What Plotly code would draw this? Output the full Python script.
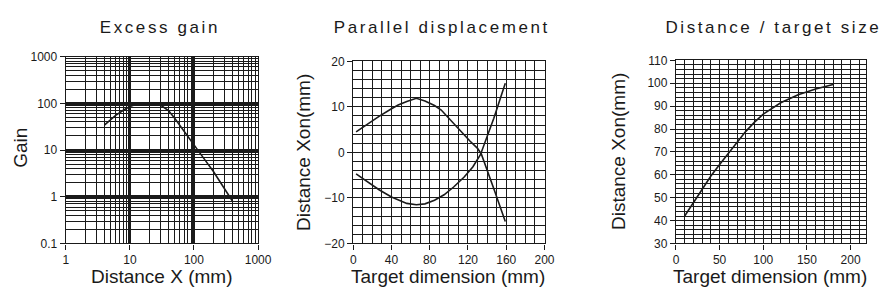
import plotly.graph_objects as go

# ---------------- data ----------------
# Excess gain (log-log)
gain_x = [4, 5, 6, 8, 10, 12, 15, 20, 25, 30, 40, 50, 70, 100, 150, 200, 300, 400]
gain_y = [34, 45, 55, 72, 85, 93, 97, 98, 97, 92, 70, 48, 25, 13, 6, 3.5, 1.5, 0.8]

# Parallel displacement
par_upper_x = [3, 15, 27, 40, 47, 56, 66, 75, 85, 92, 100, 112, 122, 130, 134, 147, 159]
par_upper_y = [4.5, 6.3, 7.9, 9.6, 10.4, 11.2, 11.9, 11.3, 10.3, 9.3, 7.5, 4.7, 2.5, 0.9, -0.4, -8, -15.2]
par_lower_x = [3, 15, 27, 40, 56, 66, 75, 85, 95, 105, 116, 125, 133, 147, 159]
par_lower_y = [-4.7, -6.5, -8.2, -9.8, -11.2, -11.5, -11.3, -10.5, -9.3, -7.6, -5.4, -3.2, -0.5, 7.5, 15.2]

# Distance / target size
dist_x = [10, 20, 30, 40, 50, 60, 70, 80, 90, 100, 120, 140, 160, 180]
dist_y = [42, 48, 54, 59.5, 64.5, 69.5, 74.5, 79, 83, 86.5, 91.5, 95, 97.5, 99.5]

titles = ["Excess gain", "Parallel displacement", "Distance / target size"]
gain_ticks = [1, 10, 100, 1000]
gain_yticks = [0.1, 1, 10, 100, 1000]
gain_yticktext = ["0.1", "1", "10", "100", "1000"]
par_xticks = [0, 40, 80, 120, 160, 200]
par_yticks = [-20, -10, 0, 10, 20]
dist_xticks = [0, 50, 100, 150, 200]
dist_yticks = [30, 40, 50, 60, 70, 80, 90, 100, 110]

# ---------------- figure ----------------
W, H = 895, 301
FONT = "Liberation Sans, Arial, sans-serif"
INK = "#1a1a1a"

def px_x(a, b):
    return [a / W, b / W]

def px_y(top, bottom):
    return [1 - bottom / H, 1 - top / H]

fig = go.Figure()
line = dict(color=INK, width=1.6)
fig.add_trace(go.Scatter(x=gain_x, y=gain_y, mode="lines", line=line, xaxis="x", yaxis="y"))
fig.add_trace(go.Scatter(x=par_upper_x, y=par_upper_y, mode="lines", line=line, xaxis="x2", yaxis="y2"))
fig.add_trace(go.Scatter(x=par_lower_x, y=par_lower_y, mode="lines", line=line, xaxis="x2", yaxis="y2"))
fig.add_trace(go.Scatter(x=dist_x, y=dist_y, mode="lines", line=line, xaxis="x3", yaxis="y3"))

tickfont = dict(family=FONT, size=12, color=INK)
common = dict(showline=True, linecolor=INK, linewidth=1.3, mirror=True,
              ticks="outside", ticklen=5, tickcolor=INK, tickwidth=1.2,
              tickfont=tickfont, zeroline=False, gridcolor=INK, fixedrange=True)

log_minor = [k * 10 ** d for d in range(-1, 3) for k in range(2, 10)]

fig.update_layout(
    width=W, height=H, margin=dict(l=0, r=0, t=0, b=0),
    paper_bgcolor="white", plot_bgcolor="white", showlegend=False,
    xaxis=dict(common, domain=px_x(64, 260), type="log", range=[0, 3],
               tickvals=gain_ticks, ticktext=[str(v) for v in gain_ticks],
               showgrid=True, gridwidth=2.6,
               minor=dict(tickvals=log_minor, showgrid=True, gridcolor=INK, gridwidth=1.1, ticks=""),
               anchor="y"),
    yaxis=dict(common, domain=px_y(52, 248), type="log", range=[-1, 3],
               tickvals=gain_yticks, ticktext=gain_yticktext,
               showgrid=True, gridwidth=2.6,
               minor=dict(tickvals=log_minor, showgrid=True, gridcolor=INK, gridwidth=1.1, ticks=""),
               anchor="x"),
    xaxis2=dict(common, domain=px_x(357, 552), range=[0, 200], tickvals=par_xticks,
                showgrid=True, gridwidth=1.3,
                minor=dict(dtick=10, tick0=0, showgrid=True, gridcolor=INK, gridwidth=1.3, ticks=""),
                anchor="y2"),
    yaxis2=dict(common, domain=px_y(57, 248), range=[-20, 20], tickvals=par_yticks,
                showgrid=True, gridwidth=1.3,
                minor=dict(dtick=2, tick0=0, showgrid=True, gridcolor=INK, gridwidth=1.3, ticks=""),
                anchor="x2"),
    xaxis3=dict(common, domain=px_x(686, 880), range=[0, 218], tickvals=dist_xticks,
                showgrid=True, gridwidth=1.2,
                minor=dict(dtick=10, tick0=0, showgrid=True, gridcolor=INK, gridwidth=1.2, ticks=""),
                anchor="y3"),
    yaxis3=dict(common, domain=px_y(56, 248), range=[30, 110], tickvals=dist_yticks,
                showgrid=True, gridwidth=1.1,
                minor=dict(dtick=2, tick0=0, showgrid=True, gridcolor=INK, gridwidth=1.1, ticks=""),
                anchor="x3"),
)

ann = []
title_font = dict(family=FONT, size=17, color=INK)
for txt, cx in zip(titles, [160, 447, 785]):
    ann.append(dict(text=txt, x=cx / W, y=1 - 21 / H, xref="paper", yref="paper",
                    xanchor="center", yanchor="middle", showarrow=False, font=title_font))
axfont = dict(family=FONT, size=19, color=INK)
for txt, cx in [("Distance X (mm)", 162), ("Target dimension (mm)", 454), ("Target dimension (mm)", 782)]:
    ann.append(dict(text=txt, x=cx / W, y=1 - 283 / H, xref="paper", yref="paper",
                    xanchor="center", yanchor="middle", showarrow=False, font=axfont))
for txt, cx, cy in [("Gain", 17, 148), ("Distance Xon(mm)", 307, 153), ("Distance Xon(mm)", 628, 152)]:
    ann.append(dict(text=txt, x=cx / W, y=1 - cy / H, xref="paper", yref="paper",
                    xanchor="center", yanchor="middle", textangle=-90, showarrow=False, font=axfont))
fig.update_layout(annotations=ann)

post = """
document.body.style.margin = '0';
document.body.style.overflow = 'hidden';
var gd = document.getElementById('{plot_id}');
function spaceTitles(){
  var names = %s;
  gd.querySelectorAll('text.annotation-text').forEach(function(t){
    if (names.indexOf(t.textContent) >= 0) { t.style.letterSpacing = '2.6px'; }
  });
}
spaceTitles();
gd.on('plotly_afterplot', spaceTitles);
""" % (str(titles).replace("'", '"'))

fig.write_html("out.html", post_script=post, config={"displayModeBar": False})
